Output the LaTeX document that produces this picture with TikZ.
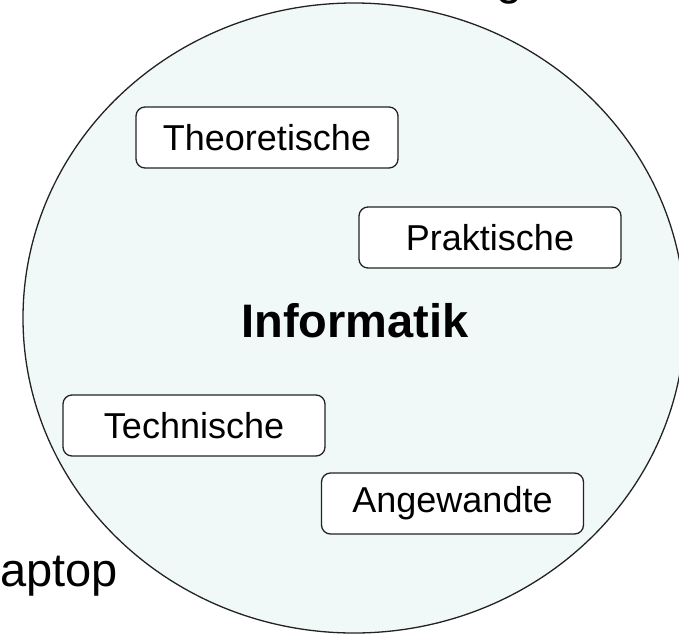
\documentclass[tikz,border=0pt]{standalone}
\usepackage{fontspec}
\setmainfont{Liberation Sans}
\definecolor{feld}{RGB}{240,248,248}
\definecolor{rand}{RGB}{35,35,35}
\tikzset{
  gebiet/.style={draw=rand, fill=white, rounded corners=9pt, line width=1.3pt,
    minimum width=262pt, minimum height=61pt, inner sep=0pt,
    font=\fontsize{36}{43}\selectfont},
  gross/.style={inner sep=0pt, font=\fontsize{47}{56}\selectfont}
}

\begin{document}
\begin{tikzpicture}[x=1pt,y=-1pt]
    \useasboundingbox (0,0) rectangle (679,635);
    \draw[rand, fill=feld, line width=1.3pt] (354,318) ellipse [x radius=331pt, y radius=315pt];
    \node (info) [gross, anchor=base, font=\fontsize{47}{56}\selectfont\bfseries] at (355,337) {Informatik};
    \node (theo) [gebiet] at (267,137.5) {Theoretische};
    \node (prak) [gebiet] at (490,237.5) {Praktische};
    \node (tech) [gebiet] at (194,425.5) {Technische};
    \node (ang) [gebiet] at (452.5,503.5) {Angewandte};
    % abgeschnittene Texte am Rand
    \node (titel) [gross, anchor=base] at (510,-6) {g};
    \node (laptop) [gross, anchor=base west] at (0,586) {aptop};
\end{tikzpicture}
\end{document}
